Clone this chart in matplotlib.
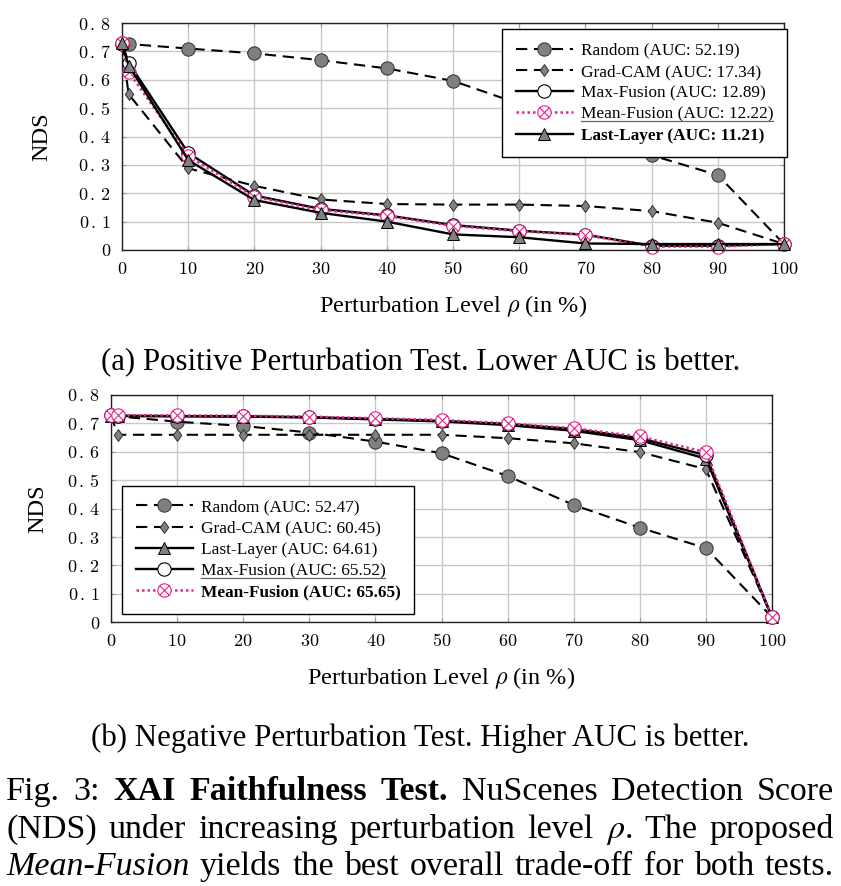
"""
XAI faithfulness test: NDS under positive / negative perturbation
"""

import matplotlib
matplotlib.use("Agg")
import matplotlib.pyplot as plt
from matplotlib.path import Path
from matplotlib.lines import Line2D
from matplotlib.ticker import FuncFormatter, MultipleLocator

W, H = 841, 886

plt.rcParams["font.family"] = ["Liberation Serif", "DejaVu Serif"]
plt.rcParams["mathtext.fontset"] = "cm"

RHO = [0, 1, 10, 20, 30, 40, 50, 60, 70, 80, 90, 100]

# (a) positive perturbation
POS_RANDOM = [0.728, 0.726, 0.710, 0.693, 0.669, 0.640, 0.596, 0.515, 0.415, 0.334, 0.264, 0.021]
POS_GRADCAM = [0.725, 0.549, 0.288, 0.226, 0.178, 0.162, 0.160, 0.160, 0.155, 0.137, 0.096, 0.021]
POS_MAX = [0.727, 0.660, 0.342, 0.192, 0.145, 0.122, 0.088, 0.068, 0.054, 0.015, 0.015, 0.021]
POS_MEAN = [0.728, 0.628, 0.331, 0.188, 0.141, 0.120, 0.085, 0.066, 0.053, 0.012, 0.012, 0.021]
POS_LAST = [0.730, 0.650, 0.317, 0.176, 0.131, 0.100, 0.055, 0.045, 0.023, 0.021, 0.021, 0.021]
POS_ORDER = ["Random", "Grad-CAM", "Max-Fusion", "Mean-Fusion", "Last-Layer"]
POS_AUC = ["52.19", "17.34", "12.89", "12.22", "11.21"]

# (b) negative perturbation
NEG_RANDOM = [0.728, 0.725, 0.706, 0.691, 0.668, 0.636, 0.595, 0.515, 0.413, 0.333, 0.261, 0.018]
NEG_GRADCAM = [0.728, 0.660, 0.660, 0.660, 0.660, 0.660, 0.660, 0.648, 0.630, 0.599, 0.539, 0.018]
NEG_LAST = [0.727, 0.726, 0.725, 0.724, 0.721, 0.714, 0.707, 0.694, 0.674, 0.641, 0.576, 0.018]
NEG_MAX = [0.728, 0.727, 0.726, 0.725, 0.722, 0.716, 0.709, 0.698, 0.680, 0.648, 0.588, 0.018]
NEG_MEAN = [0.730, 0.729, 0.728, 0.727, 0.724, 0.718, 0.712, 0.700, 0.683, 0.654, 0.599, 0.018]
NEG_ORDER = ["Random", "Grad-CAM", "Last-Layer", "Max-Fusion", "Mean-Fusion"]
NEG_AUC = ["52.47", "60.45", "64.61", "65.52", "65.65"]

POS = {"Random": POS_RANDOM, "Grad-CAM": POS_GRADCAM, "Max-Fusion": POS_MAX,
       "Mean-Fusion": POS_MEAN, "Last-Layer": POS_LAST}
NEG = {"Random": NEG_RANDOM, "Grad-CAM": NEG_GRADCAM, "Last-Layer": NEG_LAST,
       "Max-Fusion": NEG_MAX, "Mean-Fusion": NEG_MEAN}

GRAY = "#808080"
PINK = "#e6238c"

# circle with a cross inside (pgfplots "otimes")
s = 0.7071
circ = Path.unit_circle()
OTIMES = Path(list(circ.vertices) + [(-s, -s), (s, s), (-s, s), (s, -s)],
              list(circ.codes) + [Path.MOVETO, Path.LINETO, Path.MOVETO, Path.LINETO])
DIAMOND = Path([(0, 1), (0.72, 0), (0, -1), (-0.72, 0), (0, 1)],
               [Path.MOVETO, Path.LINETO, Path.LINETO, Path.LINETO, Path.CLOSEPOLY])

DASH = (0, (5.4, 3.2))
STYLE = {
    "Random": dict(color="black", ls=DASH, lw=1.5, marker="o", ms=9.6,
                   mfc=GRAY, mec="#303030", mew=0.7),
    "Grad-CAM": dict(color="black", ls=DASH, lw=1.5, marker=DIAMOND, ms=8.5,
                     mfc=GRAY, mec="#303030", mew=0.7),
    "Max-Fusion": dict(color="black", ls="-", lw=1.7, marker="o", ms=9.6,
                       mfc="white", mec="black", mew=0.8),
    "Mean-Fusion": dict(color=PINK, ls=(0, (1, 1.2)), lw=1.8, marker=OTIMES, ms=9.6,
                        mfc="white", mec=PINK, mew=0.8),
    "Last-Layer": dict(color="black", ls="-", lw=1.7, marker="^", ms=8.5,
                       mfc=GRAY, mec="black", mew=0.7),
}


def ytick(v, pos):
    if abs(v) < 1e-9:
        return "$0$"
    return r"$0\,.\,%d$" % round(v * 10)


def draw_panel(ax, data, order, aucs, bold, underline, legend_kw):
    for name, auc in zip(order, aucs):
        ax.plot(RHO, data[name], label=f"{name} (AUC: {auc})", clip_on=False,
                zorder=3, **STYLE[name])
    ax.set_xlim(0, 100)
    ax.set_ylim(0, 0.8)
    ax.xaxis.set_major_locator(MultipleLocator(10))
    ax.yaxis.set_major_locator(MultipleLocator(0.1))
    ax.xaxis.set_major_formatter(FuncFormatter(lambda v, p: "$%d$" % v))
    ax.yaxis.set_major_formatter(FuncFormatter(ytick))
    ax.grid(True, color="#c8c8c8", lw=1.0)
    ax.set_axisbelow(True)
    ax.tick_params(direction="in", length=3, width=0.8, color="#999999",
                   labelsize=13, pad=8, top=True, right=True)
    for sp in ax.spines.values():
        sp.set_linewidth(1.0)
        sp.set_color("#222222")

    ax.set_xlabel(r"Perturbation Level $\rho$ (in %)", fontsize=17.5)
    ax.xaxis.label.set_va("baseline")
    ax.xaxis.set_label_coords(0.5, -62 / 227)
    ax.set_ylabel("NDS", fontsize=17.5)
    ax.yaxis.label.set_va("baseline")

    leg = ax.legend(borderaxespad=0, fontsize=12.4, handlelength=3.3,
                    handletextpad=0.47, borderpad=0.8, labelspacing=0.3,
                    fancybox=False, framealpha=1, edgecolor="black",
                    numpoints=1, **legend_kw)
    leg.get_frame().set_linewidth(1.0)
    leg.set_zorder(5)
    leg.get_texts()[bold].set_fontweight("bold")
    return leg, underline


fig = plt.figure(figsize=(W / 100, H / 100), dpi=100)

ax1 = fig.add_axes([122 / W, 1 - 250 / H, 662 / W, 227 / H])
leg1 = draw_panel(ax1, POS, POS_ORDER, POS_AUC, 4, 3,
                  dict(loc="upper right", bbox_to_anchor=(1.0045, 0.9736)))
ax1.yaxis.set_label_coords(-75 / 662, 0.5)

ax2 = fig.add_axes([111 / W, 1 - 622.3 / H, 661 / W, 227.3 / H])
leg2 = draw_panel(ax2, NEG, NEG_ORDER, NEG_AUC, 4, 3,
                  dict(loc="lower left", bbox_to_anchor=(0.0166, 0.0365)))
ax2.yaxis.set_label_coords(-68 / 661, 0.5)

fig.text(0.5, 1 - 370 / H, "(a) Positive Perturbation Test. Lower AUC is better.",
         ha="center", va="baseline", fontsize=22.2)
fig.text(0.5, 1 - 746 / H, "(b) Negative Perturbation Test. Higher AUC is better.",
         ha="center", va="baseline", fontsize=22.2)

B = dict(fontweight="bold")
I = dict(style="italic")
CAPTION = [
    (800, [("Fig.", {}), ("3:", {}), ("XAI", B), ("Faithfulness", B), ("Test.", B),
           ("NuScenes", {}), ("Detection", {}), ("Score", {})]),
    (838, [("(NDS)", {}), ("under", {}), ("increasing", {}), ("perturbation", {}),
           ("level", {}), (r"$\rho$.", dict(math_fontfamily="stix")), ("The", {}),
           ("proposed", {})]),
    (875, [("Mean-Fusion", I), ("yields", {}), ("the", {}), ("best", {}), ("overall", {}),
           ("trade-off", {}), ("for", {}), ("both", {}), ("tests.", {})]),
]

renderer = fig.canvas.get_renderer()
for y, words in CAPTION:
    texts = [fig.text(0, 1 - y / H, w, fontsize=24.5, ha="left", va="baseline", **kw)
             for w, kw in words]
    widths = [t.get_window_extent(renderer).width for t in texts]
    gap = (834 - 6 - sum(widths)) / (len(texts) - 1)
    x = 6
    for t, w in zip(texts, widths):
        t.set_x(x / W)
        x += w + gap

# underline the second-best entry in each legend
fig.canvas.draw()
for leg, idx in (leg1, leg2):
    bb = leg.get_texts()[idx].get_window_extent(renderer)
    yline = (bb.y0 + 1.5) / H
    fig.add_artist(Line2D([bb.x0 / W, bb.x1 / W], [yline, yline],
                          transform=fig.transFigure, color="#666666", lw=0.9))

fig.savefig("out.png", dpi=100)
